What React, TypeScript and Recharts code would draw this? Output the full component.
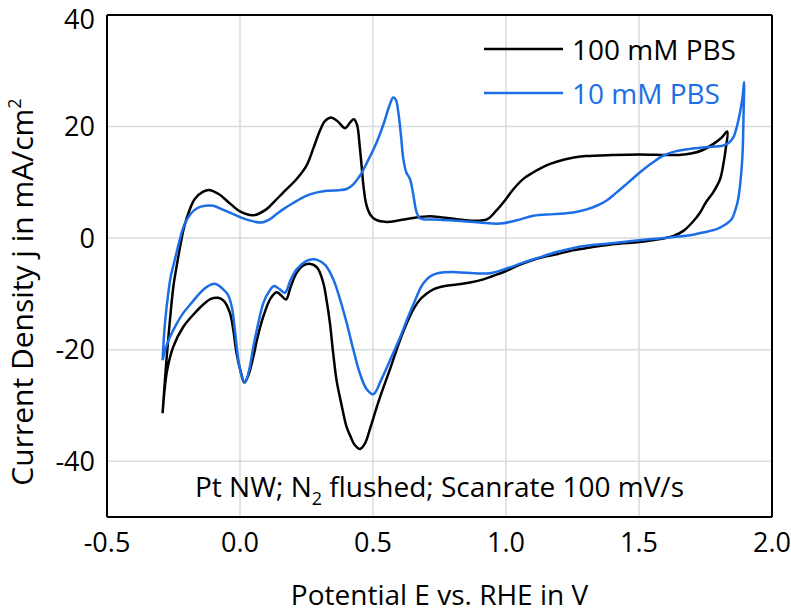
import { LineChart, Line, XAxis, YAxis, CartesianGrid, Legend, Label } from 'recharts';

// cyclic voltammograms, in scan order (anodic then cathodic)
const potential100 = [
  -0.291, -0.283, -0.275, -0.263, -0.25, -0.238, -0.225, -0.21, -0.19, -0.17, -0.14, -0.113, -0.08, -0.04, 0.0,
  0.05, 0.1, 0.13, 0.163, 0.213, 0.25, 0.275, 0.3, 0.32, 0.345, 0.37, 0.395, 0.415, 0.428, 0.44, 0.45, 0.457,
  0.465, 0.475, 0.49, 0.51, 0.55, 0.6, 0.65, 0.714, 0.76, 0.815, 0.88, 0.93, 0.965, 1.0, 1.03, 1.07, 1.103, 1.15,
  1.19, 1.25, 1.3, 1.4, 1.5, 1.6, 1.65, 1.7, 1.74, 1.78, 1.81, 1.832,
  1.826, 1.818, 1.805, 1.78, 1.75, 1.73, 1.7, 1.667, 1.63, 1.6, 1.55, 1.5, 1.4, 1.316, 1.25, 1.19, 1.14, 1.09,
  1.04, 1.0, 0.95, 0.915, 0.86, 0.815, 0.77, 0.727, 0.7, 0.677, 0.655, 0.633, 0.6, 0.564, 0.53, 0.514, 0.49,
  0.47, 0.451, 0.43, 0.415, 0.401, 0.38, 0.363, 0.35, 0.338, 0.325, 0.313, 0.29, 0.261, 0.235, 0.213, 0.19,
  0.173, 0.155, 0.138, 0.115, 0.088, 0.065, 0.05, 0.03, 0.016, 0.003, -0.013, -0.025, -0.038, -0.06, -0.082,
  -0.11, -0.138, -0.175, -0.213, -0.251, -0.275, -0.291,
];
const current100 = [
  -31.4, -26, -21, -14.5, -8.5, -5, -1.5, 2, 5, 7, 8.3, 8.6, 7.9, 6.3, 4.8,
  4.1, 5.2, 6.6, 8.2, 10.6, 13, 16, 19.2, 21, 21.6, 20.8, 19.7, 20.8, 21.3, 20.3, 16.5, 13,
  9, 6, 4.2, 3.3, 2.9, 3.2, 3.6, 3.9, 3.7, 3.4, 3.1, 3.4, 5, 7, 8.9, 10.8, 11.8, 13,
  13.7, 14.4, 14.7, 14.9, 15, 14.9, 14.9, 15.2, 15.8, 16.9, 18, 19.1,
  16, 13.5, 10.6, 8.3, 6.3, 4.6, 2.8, 1.3, 0.4, 0, -0.4, -0.7, -1.1, -1.7, -2.2, -2.9, -3.4, -4.1,
  -5, -5.9, -6.8, -7.4, -8.0, -8.3, -8.6, -9.2, -10, -11, -12.5, -14.6, -18.5, -23.5, -28, -30.3, -34,
  -36.8, -37.8, -37, -35.5, -33.9, -29.5, -25.5, -20.5, -15.2, -11, -8, -5.3, -4.6, -5, -6.2, -8.8,
  -11.0, -10.3, -9.7, -10.8, -14.0, -18, -21.3, -24.8, -25.9, -24, -20.6, -16.5, -13.4, -11.3, -10.7,
  -10.9, -11.9, -13.7, -15.9, -19.5, -24, -31.4,
];

const potential10 = [
  -0.291, -0.287, -0.282, -0.27, -0.26, -0.251, -0.238, -0.225, -0.21, -0.188, -0.16, -0.13, -0.1, -0.06, -0.025,
  0.02, 0.05, 0.082, 0.11, 0.14, 0.163, 0.2, 0.251, 0.29, 0.326, 0.37, 0.401, 0.425, 0.451, 0.48, 0.514, 0.54,
  0.56, 0.576, 0.586, 0.595, 0.605, 0.614, 0.625, 0.639, 0.65, 0.664, 0.675, 0.689, 0.75, 0.815, 0.9, 0.977,
  1.04, 1.103, 1.18, 1.253, 1.3, 1.341, 1.38, 1.416, 1.46, 1.504, 1.55, 1.591, 1.64, 1.692, 1.75, 1.817, 1.84,
  1.855, 1.868, 1.88, 1.89, 1.895,
  1.893, 1.89, 1.885, 1.873, 1.862, 1.848, 1.82, 1.792, 1.74, 1.692, 1.63, 1.566, 1.5, 1.441, 1.38, 1.316, 1.25,
  1.19, 1.13, 1.065, 1.0, 0.94, 0.88, 0.815, 0.752, 0.725, 0.702, 0.68, 0.664, 0.633, 0.6, 0.564, 0.53, 0.501,
  0.475, 0.451, 0.425, 0.401, 0.375, 0.351, 0.32, 0.29, 0.276, 0.25, 0.213, 0.19, 0.169, 0.15, 0.128, 0.11,
  0.088, 0.07, 0.05, 0.035, 0.019, 0.005, -0.006, -0.018, -0.031, -0.045, -0.063, -0.094, -0.12, -0.15, -0.18,
  -0.213, -0.24, -0.263, -0.28, -0.291,
];
const current10 = [
  -21.9, -18.5, -15.2, -10, -6.8, -5, -2.5, 0, 2.3, 4.2, 5.4, 5.8, 5.8, 5.0, 4.3,
  3.4, 3.0, 2.8, 3.3, 4.4, 5.2, 6.3, 7.6, 8.2, 8.5, 8.6, 8.8, 9.6, 11.2, 13.8, 17.2, 20.5,
  23.5, 25.2, 24.8, 22.6, 18.5, 14.2, 11.8, 10.6, 8.2, 4.6, 3.6, 3.4, 3.3, 3.1, 2.8, 2.6,
  3.2, 4.0, 4.3, 4.6, 5.1, 5.8, 6.8, 8.2, 10, 11.8, 13.5, 14.8, 15.6, 16.0, 16.3, 16.6, 17.2,
  18.1, 20, 22.6, 25.5, 28.0,
  22, 16.0, 12, 7.0, 5, 3.4, 2.3, 1.6, 1.0, 0.5, 0.2, -0.1, -0.4, -0.7, -1.0, -1.3, -1.8,
  -2.5, -3.4, -4.4, -5.5, -6.3, -6.3, -6.1, -6.2, -6.6, -7.4, -8.8, -10.5, -14.0, -18, -21.9, -25.5, -28.0,
  -27, -24.3, -19.8, -15.2, -10.8, -7.4, -4.8, -3.9, -3.8, -4.1, -5.6, -7.5, -9.8, -9.2, -8.6, -9.5,
  -11.6, -15, -19.5, -23.5, -25.9, -24.5, -21.9, -17, -12.3, -10.2, -9.2, -8.2, -8.6, -9.8, -11.5,
  -13.4, -15.5, -17.7, -19.8, -21.9,
];

const seriesNames = ['100 mM PBS', '10 mM PBS'];

const xMajorTicks = [-0.5, 0, 0.5, 1, 1.5, 2];
const xMinorTicks = [-0.25, 0.25, 0.75, 1.25, 1.75];
const yMajorTicks = [-40, -20, 0, 20, 40];
const yMinorTicks = [-30, -10, 10, 30];
const yRightTicks = [-40, -30, -20, -10, 0, 10, 20, 30];

const BLUE = '#1c6ee6';
const GRID = '#d6dddd';
const FONT = '"Open Sans", "Noto Sans", sans-serif';
const W = 791;
const H = 614;
// every axis is 1px thick (3 bottom, 3 left, 2 top, 1 right), so the plot box lands on 107..772 x 15..517
const margin = { top: 13, right: 18, bottom: 94, left: 104 };
const X_DOMAIN = [-0.5, 2];
const Y_DOMAIN = [-50, 40];

const data100 = potential100.map((e, i) => ({ e, j: current100[i] }));
const data10 = potential10.map((e, i) => ({ e, j: current10[i] }));

// centripetal Catmull-Rom (same maths as d3's curveCatmullRom, alpha 0.5):
// the scans loop back on themselves, so the x-monotone curves can't be used
function smoothLoop(context: any) {
  let pts: number[][] = [];
  const eps = 1e-9;
  return {
    areaStart() {},
    areaEnd() {},
    lineStart() { pts = []; },
    point(x: number, y: number) { pts.push([x, y]); },
    lineEnd() {
      if (!pts.length) return;
      context.moveTo(pts[0][0], pts[0][1]);
      for (let i = 0; i < pts.length - 1; i++) {
        const p0 = pts[Math.max(i - 1, 0)];
        const p1 = pts[i];
        const p2 = pts[i + 1];
        const p3 = pts[Math.min(i + 2, pts.length - 1)];
        const d01 = Math.hypot(p1[0] - p0[0], p1[1] - p0[1]);
        const d12 = Math.hypot(p2[0] - p1[0], p2[1] - p1[1]);
        const d23 = Math.hypot(p3[0] - p2[0], p3[1] - p2[1]);
        const a01 = Math.sqrt(d01), a12 = Math.sqrt(d12), a23 = Math.sqrt(d23);
        let c1 = [p1[0], p1[1]];
        let c2 = [p2[0], p2[1]];
        if (a01 > eps) {
          const a = 2 * d01 + 3 * a01 * a12 + d12;
          const n = 3 * a01 * (a01 + a12);
          c1 = [0, 1].map((k) => (p1[k] * a - p0[k] * d12 + p2[k] * d01) / n);
        }
        if (a23 > eps) {
          const b = 2 * d23 + 3 * a23 * a12 + d12;
          const m = 3 * a23 * (a23 + a12);
          c2 = [0, 1].map((k) => (p2[k] * b + p1[k] * d23 - p3[k] * d12) / m);
        }
        context.bezierCurveTo(c1[0], c1[1], c2[0], c2[1], p2[0], p2[1]);
      }
    },
  };
}

const tickStyle = { fontSize: 27, fill: '#000', fontFamily: FONT };
const frame = { stroke: '#000', strokeWidth: 2 };

// y labels, kept inside the canvas (the "40" sits right at the top edge)
function YTick({ x, y, payload }: any) {
  return (
    <text x={x} y={Math.max(y + 9.6, 29)} textAnchor="end" {...tickStyle}>
      {payload.value}
    </text>
  );
}

// inward tick mark drawn in place of a tick label (tickSize 0, tickMargin 0 puts x/y on the frame)
const markDir: Record<string, [number, number]> = { bottom: [0, -1], top: [0, 1], left: [1, 0], right: [-1, 0] };
function Mark({ x, y, side, len }: any) {
  const [dx, dy] = markDir[side];
  return <line x1={x} y1={y} x2={x + dx * len} y2={y + dy * len} stroke="#000" strokeWidth={2} />;
}

function LegendBox() {
  const rows = [
    { name: seriesNames[0], color: '#000', y: 49 },
    { name: seriesNames[1], color: BLUE, y: 93 },
  ];
  return (
    <svg width={W} height={120} style={{ display: 'block' }}>
      {rows.map((r) => (
        <g key={r.name}>
          <line x1={484} x2={563} y1={r.y} y2={r.y} stroke={r.color} strokeWidth={2.5} />
          <text x={572} y={r.y + 11} fill={r.color} fontSize={28} fontFamily={FONT}>
            {r.name}
          </text>
        </g>
      ))}
    </svg>
  );
}

export default function App() {
  const cx = 107 + 665 / 2;
  const markAxis = { tickSize: 0, tickMargin: 0, tickLine: false, interval: 0 as const, type: 'number' as const };

  return (
    <div style={{ width: W, height: H }}>
      <style>{'body{margin:0;overflow:hidden;}'}</style>
      <LineChart width={W} height={H} margin={margin}>
        <CartesianGrid xAxisId="x" yAxisId="y" stroke={GRID} strokeWidth={1.5} />

        {/* labelled axes: frame lines and numbers */}
        <XAxis xAxisId="x" dataKey="e" type="number" domain={X_DOMAIN} ticks={xMajorTicks} interval={0}
          height={1} tickSize={0} tickMargin={16} axisLine={frame} tickLine={false} tick={tickStyle}
          tickFormatter={(v: number) => v.toFixed(1)} allowDataOverflow>
          <Label content={({ viewBox }: any) => (
            <g fontFamily={FONT} fill="#000">
              <text x={cx} y={viewBox.y - 20} textAnchor="middle" fontSize={28}>
                Pt NW; N<tspan dy={8} fontSize={18}>2</tspan><tspan dy={-8}> flushed; Scanrate 100 mV/s</tspan>
              </text>
              <text x={cx} y={605} textAnchor="middle" fontSize={28}>Potential E vs. RHE in V</text>
            </g>
          )} />
        </XAxis>
        <YAxis yAxisId="y" type="number" domain={Y_DOMAIN} ticks={yMajorTicks} interval={0} width={1}
          tickSize={0} tickMargin={12} axisLine={frame} tickLine={false} tick={<YTick />} allowDataOverflow>
          <Label content={() => (
            <text transform="translate(33, 292) rotate(-90)" textAnchor="middle" fontSize={30}
              fontFamily={FONT} fill="#000">
              Current Density j in mA/cm<tspan dy={-12} fontSize={18}>2</tspan>
            </text>
          )} />
        </YAxis>

        {/* inward tick marks on all four sides */}
        <XAxis xAxisId="xTicks" dataKey="e" domain={X_DOMAIN} ticks={xMajorTicks} height={1} axisLine={false}
          tick={<Mark side="bottom" len={10} />} {...markAxis} />
        <XAxis xAxisId="xMinor" dataKey="e" domain={X_DOMAIN} ticks={xMinorTicks} height={1} axisLine={false}
          tick={<Mark side="bottom" len={5} />} {...markAxis} />
        <XAxis xAxisId="xTop" orientation="top" dataKey="e" domain={X_DOMAIN} ticks={xMajorTicks} height={1}
          axisLine={frame} tick={<Mark side="top" len={10} />} {...markAxis} />
        <XAxis xAxisId="xTopMinor" orientation="top" dataKey="e" domain={X_DOMAIN} ticks={xMinorTicks} height={1}
          axisLine={false} tick={<Mark side="top" len={5} />} {...markAxis} />
        <YAxis yAxisId="yTicks" domain={Y_DOMAIN} ticks={yMajorTicks} width={1} axisLine={false}
          tick={<Mark side="left" len={10} />} {...markAxis} />
        <YAxis yAxisId="yMinor" domain={Y_DOMAIN} ticks={yMinorTicks} width={1} axisLine={false}
          tick={<Mark side="left" len={5} />} {...markAxis} />
        <YAxis yAxisId="yRight" orientation="right" domain={Y_DOMAIN} ticks={yRightTicks} width={1}
          axisLine={frame} tick={<Mark side="right" len={10} />} {...markAxis} />

        <Legend layout="vertical" align="center" verticalAlign="middle"
          wrapperStyle={{ left: 0, top: 0, width: W, height: 120 }} content={() => <LegendBox />} />

        <Line xAxisId="x" yAxisId="y" data={data100} dataKey="j" name={seriesNames[0]} type={smoothLoop as any}
          stroke="#000" strokeWidth={2.5} dot={false} isAnimationActive={false} />
        <Line xAxisId="x" yAxisId="y" data={data10} dataKey="j" name={seriesNames[1]} type={smoothLoop as any}
          stroke={BLUE} strokeWidth={2.5} dot={false} isAnimationActive={false} />
      </LineChart>
    </div>
  );
}
